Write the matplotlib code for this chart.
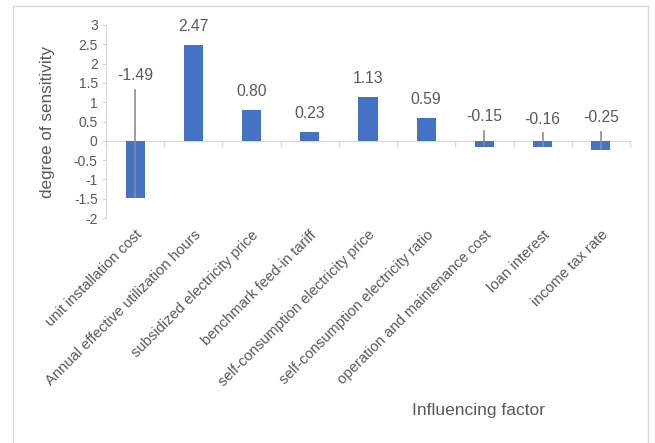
import numpy as np
import matplotlib.pyplot as plt
from matplotlib.patches import Rectangle

plt.rcParams['font.family'] = ['Liberation Sans', 'DejaVu Sans']
plt.rcParams['axes.unicode_minus'] = False

# data
factors = [
    "unit installation cost",
    "Annual effective utilization hours",
    "subsidized electricity price",
    "benchmark feed-in tariff",
    "self-consumption electricity price",
    "self-consumption electricity ratio",
    "operation and maintenance cost",
    "loan interest",
    "income tax rate",
]
sensitivity = [-1.49, 2.47, 0.80, 0.23, 1.13, 0.59, -0.15, -0.16, -0.25]
value_labels = ["-1.49", "2.47", "0.80", "0.23", "1.13", "0.59", "-0.15", "-0.16", "-0.25"]
y_ticks = [-2, -1.5, -1, -0.5, 0, 0.5, 1, 1.5, 2, 2.5, 3]

# where Excel put the labels of the negative bars (above zero, with leader lines)
neg_label_y = {0: 1.68, 6: 0.62, 7: 0.55, 8: 0.60}

text_col = '#595959'
axis_col = '#D9D9D9'
bar_col = '#4472C4'

fig = plt.figure(figsize=(6.55, 4.43), dpi=100)
ax = fig.add_axes([106 / 655, 1 - 218 / 443, 524 / 655, 193 / 443])

x = np.arange(len(factors))
ax.bar(x, sensitivity, width=0.33, color=bar_col, zorder=2)
ax.set_xlim(-0.5, len(factors) - 0.5)
ax.set_ylim(-2, 3)

# y axis
ax.set_yticks(y_ticks)
ax.set_yticklabels([f"{t:g}" for t in y_ticks])
ax.tick_params(axis='y', direction='out', length=3, color='#D0D8E8',
               labelcolor=text_col, labelsize=10, pad=3)
ax.spines['left'].set_color('#D0D8E8')
for s in ['top', 'right', 'bottom']:
    ax.spines[s].set_visible(False)

# category labels at bottom of the plot area
ax.set_xticks(x)
ax.set_xticklabels(factors, rotation=45, ha='right', rotation_mode='anchor')
ax.tick_params(axis='x', length=0, labelcolor=text_col, labelsize=10.6, pad=7)

# horizontal axis line at zero with ticks between categories
zero_frac = (0 - ax.get_ylim()[0]) / (ax.get_ylim()[1] - ax.get_ylim()[0])
sec = ax.secondary_xaxis(zero_frac)
sec.set_xticks(np.arange(len(factors) + 1) - 0.5)
sec.set_xticklabels([])
sec.tick_params(direction='out', length=4, color=axis_col, width=1)
sec.spines['bottom'].set_color(axis_col)

# data labels
for i, (v, lab) in enumerate(zip(sensitivity, value_labels)):
    if v >= 0:
        ax.annotate(lab, (i, v), xytext=(0, 13.5), textcoords='offset points',
                    ha='center', va='center', color=text_col, fontsize=11.3)
    else:
        ly = neg_label_y[i]
        ax.text(i, ly, lab, ha='center', va='center', color=text_col, fontsize=11.3)
        ax.plot([i, i], [ly - 0.36, v + 0.03], color='#8C8C8C', lw=1.2, zorder=3)

ax.set_ylabel("degree of sensitivity", color=text_col, fontsize=12.3)
ax.yaxis.set_label_coords(-0.097, 0.5)
fig.text(478 / 655, 1 - 410 / 443, "Influencing factor", ha='center', va='center',
         color=text_col, fontsize=12.5)

# chart border
fig.patches.append(Rectangle((13 / 655, -0.05), 635 / 655, 1.05 - 6 / 443,
                             transform=fig.transFigure, fill=False,
                             edgecolor=axis_col, lw=1))

fig.savefig("out.png", dpi=100)
